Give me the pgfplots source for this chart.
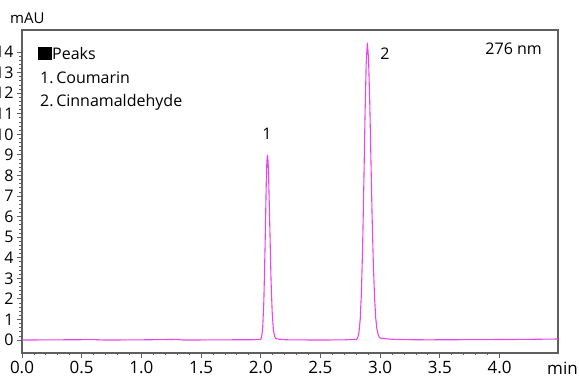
\documentclass[border=0pt]{standalone}
\usepackage{pgfplots}
\pgfplotsset{compat=1.18}
\usepackage{fontspec}
\setmainfont{Open Sans}
\definecolor{trace}{RGB}{232,70,232}
\definecolor{axgray}{RGB}{95,95,95}
\begin{document}
\begin{tikzpicture}
\begin{axis}[
  scale only axis, width=536pt, height=323pt,
  xmin=0, xmax=4.49, ymin=-0.63, ymax=15.07,
  xtick={0,0.5,1,1.5,2,2.5,3,3.5,4},
  ytick={0,1,2,3,4,5,6,7,8,9,10,11,12,13,14},
  minor x tick num=4, minor y tick num=4,
  tick align=outside, xtick pos=bottom, ytick pos=left,
  major tick length=5pt, minor tick length=2.5pt,
  axis line style={axgray, line width=1.1pt},
  every tick/.style={axgray, line width=0.8pt},
  xticklabel style={font=\fontsize{17}{19}\selectfont, /pgf/number format/.cd, fixed, fixed zerofill, precision=1},
  yticklabel style={font=\fontsize{16}{18}\selectfont},
  /pgf/number format/assume math mode=true,
]
\addplot[trace, line width=1.1pt] coordinates {
(0.00,0.00) (0.30,0.01) (0.60,0.02) (0.70,0.00) (1.00,0.01) (1.30,0.03) (1.35,0.00) (1.70,0.01) (1.996,0.018)
(2.006,0.119) (2.016,0.565) (2.026,1.897) (2.036,4.50) (2.046,7.57) (2.051,8.62) (2.056,9.00)
(2.061,8.72) (2.066,7.94) (2.076,5.46) (2.086,2.92) (2.096,1.32) (2.106,0.49) (2.116,0.18)
(2.126,0.08) (2.136,0.06) (2.156,0.04) (2.186,0.02) (2.236,0.01) (2.50,0.00) (2.70,0.01)
(2.803,0.036) (2.813,0.127) (2.823,0.386) (2.833,1.007) (2.843,2.27) (2.853,4.43) (2.863,7.42)
(2.873,10.75) (2.883,13.42) (2.893,14.45) (2.903,13.67) (2.913,11.57) (2.923,8.76) (2.933,5.94)
(2.943,3.75) (2.953,2.10) (2.963,1.08) (2.973,0.53) (2.983,0.27) (2.993,0.14) (3.003,0.09)
(3.033,0.07) (3.093,0.04) (3.193,0.02) (3.393,0.01) (3.80,0.02) (4.20,0.03) (4.49,0.05)
};
\coordinate (sw) at (rel axis cs:0,0);
\end{axis}
\coordinate (O) at ([shift={(-22pt,-27pt)}]sw);
\begin{scope}[shift={(O)}, x=1pt, y=1pt]
\node[anchor=base west, inner sep=0, font=\fontsize{15}{17}\selectfont] at (10,356) {mAU};
\node[anchor=base west, inner sep=0, font=\fontsize{16}{18}\selectfont] at (38,320) {\rule{14pt}{12.5pt}Peaks};
\node[anchor=base west, inner sep=0, font=\fontsize{16}{18}\selectfont] at (40,296) {1.\,Coumarin};
\node[anchor=base west, inner sep=0, font=\fontsize{16}{18}\selectfont] at (40,273) {2.\,Cinnamaldehyde};
\node[anchor=base east, inner sep=0, font=\fontsize{16}{18}\selectfont] at (542,325) {276 nm};
\node[anchor=base, inner sep=0, font=\fontsize{16}{18}\selectfont] at (267,240) {1};
\node[anchor=base, inner sep=0, font=\fontsize{16}{18}\selectfont] at (385,320) {2};
\node[anchor=base west, inner sep=0, font=\fontsize{17}{19}\selectfont] at (547,5) {min};
\pgfresetboundingbox
\path[use as bounding box] (0,0) rectangle (579,380);
\end{scope}
\end{tikzpicture}
\end{document}
